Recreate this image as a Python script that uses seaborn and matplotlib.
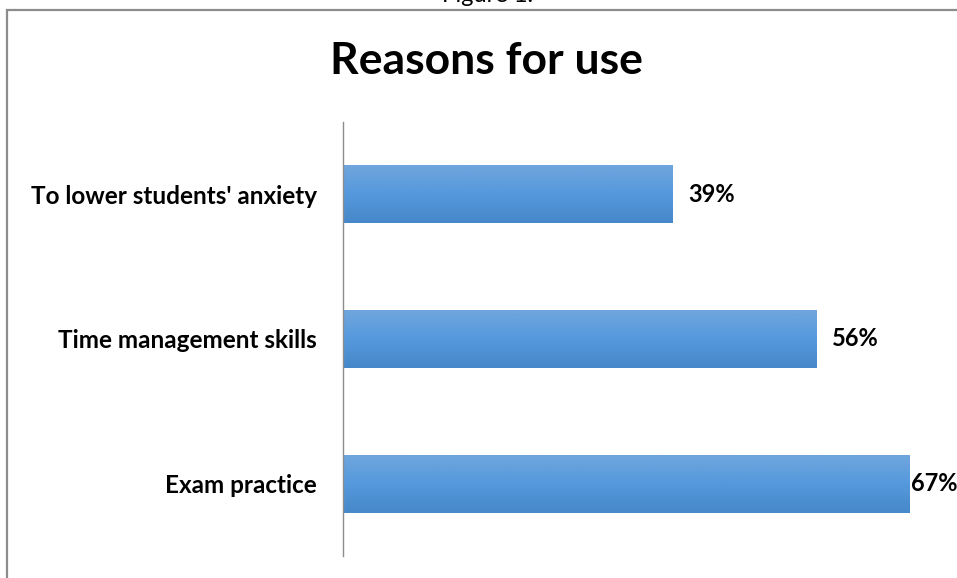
import numpy as np
import pandas as pd
import matplotlib
matplotlib.use("Agg")
import matplotlib.pyplot as plt
from matplotlib.patches import Rectangle
from matplotlib.colors import LinearSegmentedColormap
import seaborn as sns

categories = ["To lower students' anxiety", "Time management skills", "Exam practice"]
values = [39, 56, 67]
value_labels = ["39%", "56%", "67%"]
title = "Reasons for use"
caption = "Figure 1."

sns.set_style("white")
plt.rcParams['font.family'] = ['Lato', 'DejaVu Sans']

W, H = 957, 578
fig = plt.figure(figsize=(W / 100, H / 100), dpi=100)
ax = fig.add_axes([343 / W, 1 - 556 / H, (W - 343) / W, (556 - 122) / H])

df = pd.DataFrame({"reason": categories, "value": values})
sns.barplot(data=df, x="value", y="reason", orient="h", ax=ax,
            color="#5599dd", width=0.4, saturation=1)

XMAX = (W - 343) / 8.45
ax.set_xlim(0, XMAX)
ax.set_ylim(2.5, -0.5)

# gradient fill for bars
cmap = LinearSegmentedColormap.from_list(
    "g", ["#70a6dd", "#5599dd", "#4688c8"])
grad = np.linspace(0, 1, 256).reshape(-1, 1)
for p in ax.patches:
    x0, y0 = p.get_x(), p.get_y()
    w, h = p.get_width(), p.get_height()
    im = ax.imshow(grad, cmap=cmap, aspect="auto",
                   extent=[x0, x0 + w, y0 + h, y0], origin="upper",
                   zorder=p.get_zorder() + 0.1)
    im.set_clip_path(p)

ax.set_ylim(2.5, -0.5)
ax.set_xlim(0, XMAX)

ax.set_xlabel("")
ax.set_ylabel("")
ax.set_xticks([])
ax.tick_params(axis="y", length=0, pad=19, labelcolor="black")
for t in ax.get_yticklabels():
    t.set_fontsize(17.5)
    t.set_fontweight("bold")
    t.set_color("black")
for s in ["top", "right", "bottom"]:
    ax.spines[s].set_visible(False)
ax.spines["left"].set_color("#8c8c8c")
ax.spines["left"].set_linewidth(1.0)

fig.text(486 / W, 1 - 61 / H, title, ha="center", va="center",
         fontsize=32, fontweight="bold", color="black")

fig.text(488 / W, 1 + 5 / H, caption, ha="center", va="center",
         fontsize=17, color="black")

# value labels, kept inside the figure
fig.canvas.draw()
renderer = fig.canvas.get_renderer()
for i, (v, lab) in enumerate(zip(values, value_labels)):
    t = ax.text(v + 1.9, i, lab, ha="left", va="center",
                fontsize=17, fontweight="bold", color="black", clip_on=False)
    bb = t.get_window_extent(renderer)
    if bb.x1 > W - 1:
        t.set_ha("right")
        t.set_x(XMAX)

# outer frame (partially visible)
fig.patches.append(Rectangle((7 / W, -0.1), 1.2, 1 - 10 / H + 0.1,
                             transform=fig.transFigure, fill=False,
                             edgecolor="#8c8c8c", linewidth=1.6))

fig.savefig("out.png", dpi=100)
